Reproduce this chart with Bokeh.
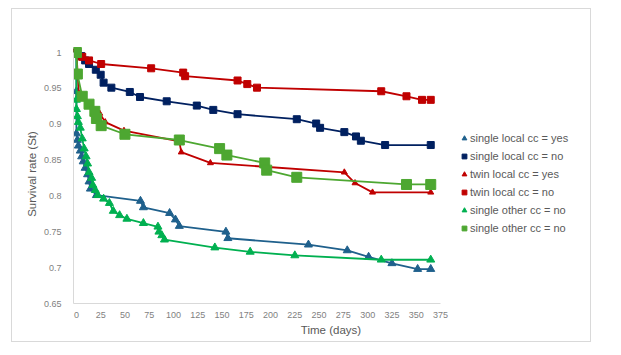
from bokeh.plotting import figure
from bokeh.models import Legend, LegendItem, NumeralTickFormatter, FixedTicker, Range1d, InlineStyleSheet
from bokeh.embed import file_html
from bokeh.resources import INLINE

# ---- data ----
sly_days = [0, 0, 0, 1, 2, 4, 5.4, 7, 9, 11.5, 13, 14.4, 20.6, 66, 69, 96, 102, 106, 154, 156, 239, 279, 301, 325, 351.5, 365]
sly_vals = [1.0, 0.946, 0.887, 0.878, 0.870, 0.863, 0.855, 0.848, 0.839, 0.830, 0.820, 0.810, 0.801, 0.793, 0.784, 0.776, 0.767, 0.758, 0.750, 0.741, 0.732, 0.724, 0.715, 0.706, 0.698, 0.698]

sln_days = [0, 5, 9, 13, 20, 25, 28, 36, 55, 65.5, 93, 124, 141, 166, 227, 247, 251, 276, 288, 293, 318, 365]
sln_vals = [1.0, 0.995, 0.989, 0.984, 0.976, 0.969, 0.958, 0.951, 0.945, 0.938, 0.932, 0.926, 0.920, 0.914, 0.907, 0.901, 0.895, 0.889, 0.883, 0.877, 0.871, 0.871]

tly_days = [0, 2.5, 24, 29.7, 49, 106, 108, 138, 276, 287, 305, 365]
tly_vals = [1.0, 0.943, 0.915, 0.903, 0.891, 0.876, 0.861, 0.846, 0.833, 0.818, 0.805, 0.805]

tln_days = [0, 6, 13, 25.5, 77, 110, 112, 166, 176, 186, 314, 340, 356, 365]
tln_vals = [1.0, 0.994, 0.989, 0.984, 0.978, 0.972, 0.967, 0.961, 0.956, 0.951, 0.946, 0.939, 0.934, 0.934]

son_t_days = [0, 0, 0, 1, 2, 4, 6, 8, 10, 11.5, 13, 15.7, 17, 19.5, 22, 28, 34, 38, 44.5, 52, 69, 84, 85, 88, 90.7, 142.6, 179, 225, 314, 365]
son_t_vals = [1.0, 0.934, 0.921, 0.911, 0.903, 0.895, 0.880, 0.866, 0.855, 0.845, 0.833, 0.825, 0.815, 0.808, 0.801, 0.796, 0.790, 0.779, 0.773, 0.768, 0.762, 0.757, 0.750, 0.745, 0.739, 0.728, 0.722, 0.717, 0.711, 0.711]

son_s_days = [0, 1, 6, 13, 19, 20.6, 25.5, 50, 106, 147.5, 155, 194, 196, 227, 340, 365]
son_s_vals = [1.0, 0.970, 0.939, 0.928, 0.918, 0.908, 0.898, 0.886, 0.878, 0.866, 0.857, 0.846, 0.836, 0.826, 0.816, 0.816]

labels = ["single local cc = yes", "single local cc = no", "twin local cc = yes",
          "twin local cc = no", "single other cc = no", "single other cc = no"]

y_ticks = [0.65, 0.7, 0.75, 0.8, 0.85, 0.9, 0.95, 1.0]
x_ticks = [0, 25, 50, 75, 100, 125, 150, 175, 200, 225, 250, 275, 300, 325, 350, 375]

FONT = "Liberation Sans"
GRAY_TXT = "#595959"

p = figure(width=580, height=334, output_backend="svg", toolbar_location=None,
           x_range=Range1d(-3, 527.5), y_range=Range1d(0.65, 1.0112),
           min_border_left=61, min_border_right=4, min_border_top=35, min_border_bottom=40)
p.stylesheets = [InlineStyleSheet(css=":host { border: 1px solid #D9D9D9; margin: 8px 0 0 11px; }")]
p.outline_line_color = None
p.xgrid.visible = False
p.ygrid.visible = False
p.background_fill_color = "white"
p.border_fill_color = "white"

series = [
    (sly_days, sly_vals, "#1F608C", "triangle", 8),
    (sln_days, sln_vals, "#002060", "square", 7),
    (tly_days, tly_vals, "#C00000", "triangle", 6),
    (tln_days, tln_vals, "#C00000", "square", 7),
    (son_t_days, son_t_vals, "#00B050", "triangle", 8),
    (son_s_days, son_s_vals, "#4DA731", "square", 10),
]

items = []
for (d, v, c, m, s), lab in zip(series, labels):
    p.line(d, v, line_color=c, line_width=1.8)
    r = p.scatter(d, v, marker=m, size=s, fill_color=c, line_color=c)
    items.append(LegendItem(label=lab, renderers=[r]))

for ax in (p.xaxis[0], p.yaxis[0]):
    ax.axis_line_color = "#D9D9D9"
    ax.axis_line_width = 1
    ax.major_tick_line_color = None
    ax.minor_tick_line_color = None
    ax.major_label_text_font = FONT
    ax.major_label_text_font_size = "9px"
    ax.major_label_text_color = "#7F7F7F"
    ax.axis_label_text_font = FONT
    ax.axis_label_text_font_size = "11.5px"
    ax.axis_label_text_color = GRAY_TXT
    ax.axis_label_text_font_style = "normal"

p.xaxis.ticker = FixedTicker(ticks=x_ticks)
p.yaxis.ticker = FixedTicker(ticks=y_ticks)
p.xaxis.bounds = (-3, 375)
p.yaxis.bounds = (0.65, 1.0)
p.yaxis.formatter = NumeralTickFormatter(format="0.[00]")
p.xaxis.axis_label = "Time (days)"
p.yaxis.axis_label = "Survival rate (St)"
p.xaxis.major_label_standoff = 2
p.yaxis.major_label_standoff = 6
p.xaxis.axis_label_standoff = 3
p.yaxis.axis_label_standoff = 3

legend = Legend(items=items, location=(385, 66))
legend.border_line_color = None
legend.background_fill_alpha = 0
legend.padding = 0
legend.margin = 0
legend.spacing = 0
legend.label_height = 18
legend.glyph_height = 18
legend.glyph_width = 12
legend.label_standoff = 0
legend.label_text_font = FONT
legend.label_text_font_size = "11px"
legend.label_text_color = GRAY_TXT
p.add_layout(legend, "center")

open("out.html", "w").write(file_html(p, INLINE))
